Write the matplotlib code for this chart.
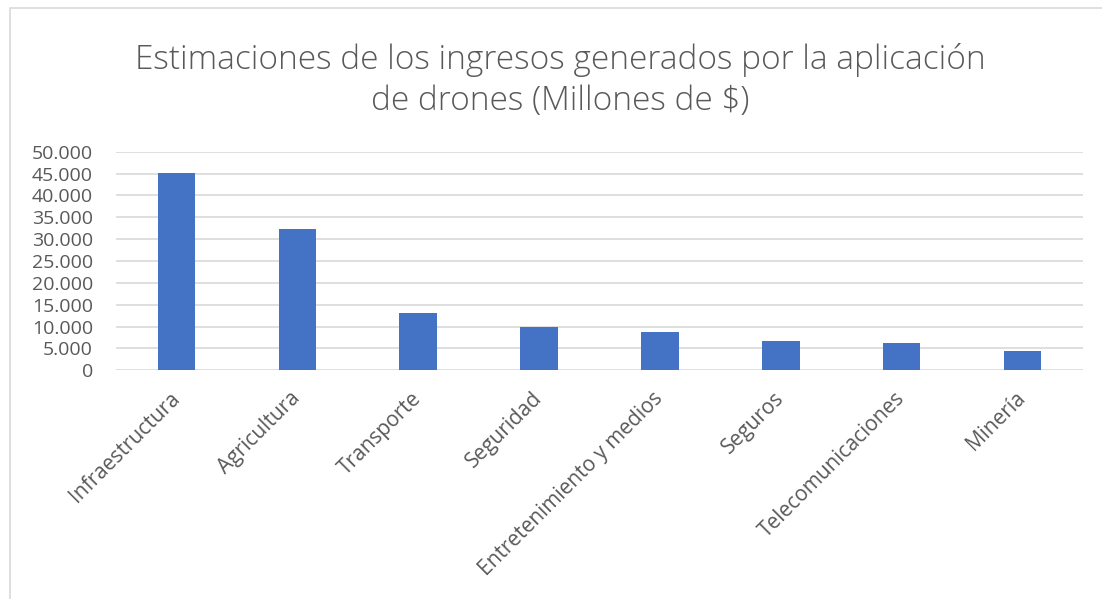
import matplotlib
matplotlib.use("Agg")
from matplotlib import pyplot as plt
from matplotlib.lines import Line2D
from matplotlib.ticker import FuncFormatter


categories = ["Infraestructura", "Agricultura", "Transporte", "Seguridad",
              "Entretenimiento y medios", "Seguros", "Telecomunicaciones", "Minería"]
ingresos = [45200, 32400, 13000, 10000, 8800, 6800, 6300, 4400]
y_ticks = [0, 5000, 10000, 15000, 20000, 25000, 30000, 35000, 40000, 45000, 50000]

title = "Estimaciones de los ingresos generados por la aplicación\nde drones (Millones de $)"


def miles(v, pos):
    return f"{int(v):,}".replace(",", ".")


def main():
    plt.rcParams["font.family"] = ["Open Sans", "DejaVu Sans"]
    fig = plt.figure(figsize=(11.02, 5.99), dpi=100)
    ax = fig.add_axes([0.1053, 0.3818, 0.8775, 0.3649])

    x = range(len(categories))
    ax.bar(x, ingresos, width=0.31, color="#4472C4", zorder=3)

    ax.set_xlim(-0.5, len(categories) - 0.5)
    ax.set_ylim(0, 50000)
    ax.set_yticks(y_ticks)
    ax.yaxis.set_major_formatter(FuncFormatter(miles))
    ax.grid(axis="y", color="#D9D9D9", linewidth=1.2, zorder=0)
    for s in ax.spines.values():
        s.set_visible(False)
    ax.tick_params(axis="both", length=0, labelcolor="#595959")
    ax.tick_params(axis="y", pad=16.5, labelsize=14)

    ax.set_xticks(list(x))
    ax.set_xticklabels(categories, rotation=45, ha="right", va="center",
                       rotation_mode="anchor")
    ax.tick_params(axis="x", pad=18, labelsize=15)

    fig.text(0.508, 0.866, title, ha="center", va="center", fontsize=24,
             color="#595959", linespacing=1.3, fontweight="light")

    # chart frame (only left and top edges visible in the crop)
    fig.add_artist(Line2D([10 / 1102, 10 / 1102, 1.0], [0.0, 1 - 7.5 / 599, 1 - 7.5 / 599],
                          transform=fig.transFigure, color="#D9D9D9", linewidth=1.2))

    fig.savefig("out.png", dpi=100)


if __name__ == "__main__":
    main()
